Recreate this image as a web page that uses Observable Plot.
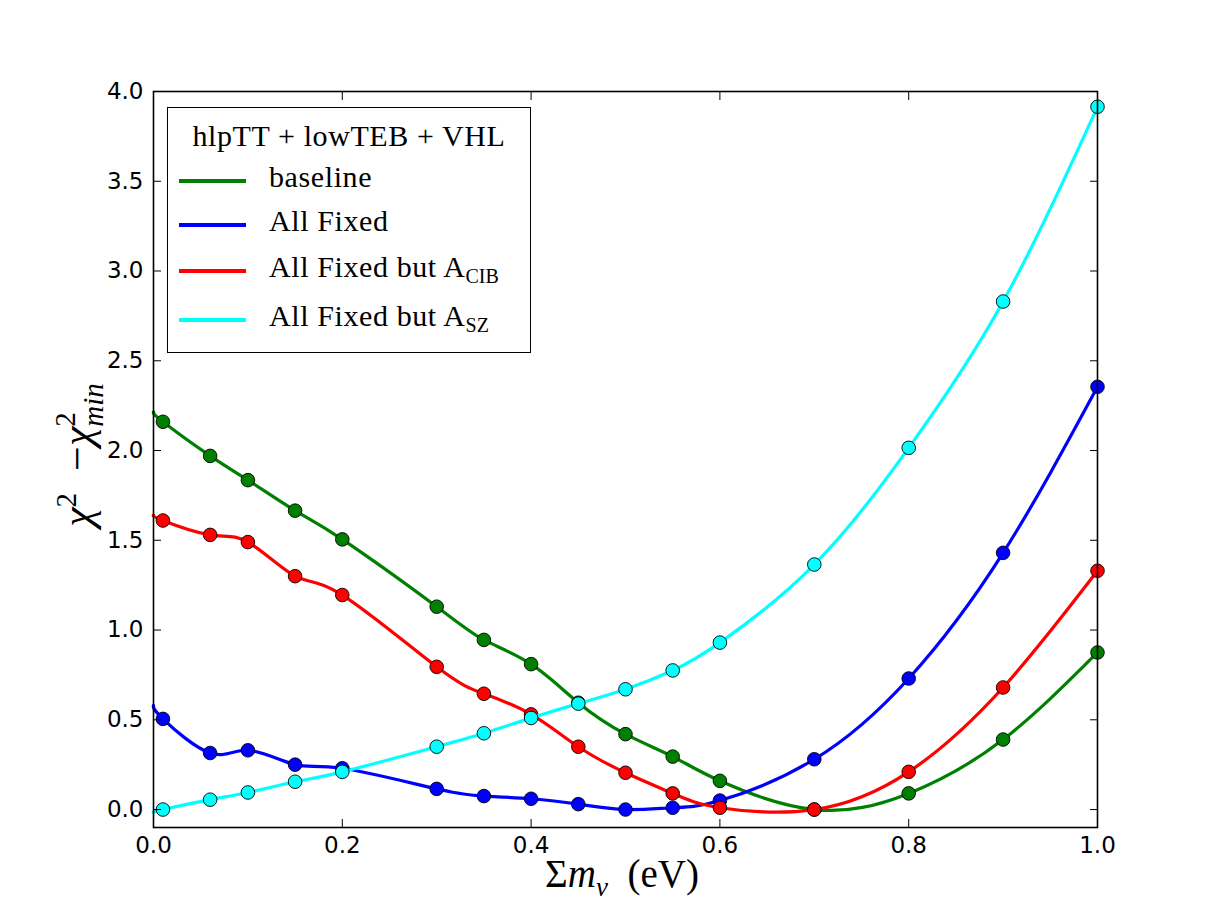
<!DOCTYPE html>
<html>
<head>
<meta charset="utf-8">
<script src="https://cdn.jsdelivr.net/npm/d3@7"></script>
<script src="https://cdn.jsdelivr.net/npm/@observablehq/plot@0.6"></script>
<style>
  html, body { margin: 0; padding: 0; background: #fff; }
  #wrap { position: relative; width: 1219px; height: 919px; }
  #legend { position: absolute; left: 167px; top: 107px; width: 362px; height: 244px;
    border: 1.5px solid #000; background: #fff; font-family: "Liberation Serif", serif; font-size: 30px; color: #000; letter-spacing: 0.6px; }
  .lt { position: absolute; white-space: nowrap; line-height: 1; }
  .sw { position: absolute; left: 11px; width: 67px; height: 3.5px; }
  .sub { font-size: 20px; position: relative; top: 6px; letter-spacing: 0; }
  #xlabel { position: absolute; left: 422px; width: 400px; top: 853px; text-align: center;
    font-family: "Liberation Serif", serif; font-size: 39px; white-space: nowrap; line-height: 1.1; }
  #ylabel { position: absolute; left: 80px; top: 455px; transform: translate(-50%, -50%) rotate(-90deg);
    font-family: "Liberation Serif", serif; font-size: 44px; white-space: nowrap; line-height: 1.1; }
  .stack { display: inline-block; vertical-align: middle; line-height: 0.95; position: relative; top: -2px; text-align: left; }
  .stack span { display: block; }
</style>
</head>
<body>
<div id="wrap"></div>
<script>
// x positions of the computed points (eV)
const mnu = [0.01, 0.06, 0.1, 0.15, 0.2, 0.3, 0.35, 0.4, 0.45, 0.5, 0.55, 0.6, 0.7, 0.8, 0.9, 1.0];
// series values (chi^2 - chi^2_min)
const baseline      = [2.16, 1.97, 1.835, 1.665, 1.505, 1.13, 0.945, 0.81, 0.595, 0.42, 0.295, 0.16, 0.0, 0.09, 0.39, 0.875];
const allFixed      = [0.505, 0.315, 0.33, 0.25, 0.23, 0.115, 0.075, 0.06, 0.03, 0.0, 0.01, 0.05, 0.28, 0.73, 1.43, 2.355];
const allFixedCIB   = [1.61, 1.53, 1.49, 1.30, 1.195, 0.795, 0.645, 0.53, 0.35, 0.205, 0.09, 0.01, 0.0, 0.21, 0.68, 1.33];
const allFixedSZ    = [0.0, 0.055, 0.095, 0.155, 0.21, 0.35, 0.425, 0.51, 0.59, 0.67, 0.775, 0.93, 1.365, 2.015, 2.83, 3.915];
// where each smooth curve starts at the left edge
const curveStartX = 0.0;
const curveStart = [2.215, 0.58, 1.64, -0.015];

const seriesNames = ["baseline", "All Fixed", "All Fixed but A_CIB", "All Fixed but A_SZ"];
const seriesValues = [baseline, allFixed, allFixedCIB, allFixedSZ];
const seriesColors = ["#008000", "#0000ff", "#ff0000", "#00ffff"];

const xTicks = [0.0, 0.2, 0.4, 0.6, 0.8, 1.0];
const yTicks = [0.0, 0.5, 1.0, 1.5, 2.0, 2.5, 3.0, 3.5, 4.0];

const seriesMarks = [];
seriesValues.forEach((vals, i) => {
  const pts = mnu.map((m, j) => ({x: m, y: vals[j]}));
  const curvePts = [{x: curveStartX, y: curveStart[i]}, ...pts];
  seriesMarks.push(Plot.line(curvePts, {x: "x", y: "y", stroke: seriesColors[i], strokeWidth: 3.2, curve: "natural"}));
  seriesMarks.push(Plot.dot(pts, {x: "x", y: "y", fill: seriesColors[i], stroke: "#000", strokeWidth: 0.9, r: 6.8}));
});

const fmt = d3.format(".1f");
const none = () => "";
const chart = Plot.plot({
  width: 1219,
  height: 919,
  marginLeft: 153,
  marginRight: 122,
  marginTop: 91,
  marginBottom: 92,
  style: {fontFamily: "DejaVu Sans", fontSize: "23px", background: "#fff", color: "#000"},
  x: {domain: [0, 1]},
  y: {domain: [-0.1, 4.0]},
  marks: [
    ...seriesMarks,
    Plot.axisX(xTicks, {anchor: "bottom", tickSize: -8, tickPadding: 17, tickFormat: fmt, label: null, fontSize: 23, strokeWidth: 1}),
    Plot.axisX(xTicks, {anchor: "top", tickSize: -8, tickFormat: none, label: null, strokeWidth: 1}),
    Plot.axisY(yTicks, {anchor: "left", tickSize: -8, tickPadding: 18, tickFormat: fmt, label: null, fontSize: 23, strokeWidth: 1}),
    Plot.axisY(yTicks, {anchor: "right", tickSize: -8, tickFormat: none, label: null, strokeWidth: 1}),
    Plot.frame({stroke: "#000", strokeWidth: 1.6})
  ]
});

const wrap = document.getElementById("wrap");
wrap.appendChild(chart);

// legend
const legend = document.createElement("div");
legend.id = "legend";
const title = document.createElement("div");
title.className = "lt";
title.style.left = "0"; title.style.width = "100%"; title.style.textAlign = "center"; title.style.top = "13px";
title.textContent = "hlpTT + lowTEB + VHL";
legend.appendChild(title);
const rowTops = [73, 117, 163, 212];
seriesNames.forEach((name, i) => {
  const sw = document.createElement("div");
  sw.className = "sw";
  sw.style.top = (rowTops[i] - 2) + "px";
  sw.style.background = seriesColors[i];
  legend.appendChild(sw);
  const t = document.createElement("div");
  t.className = "lt";
  t.style.left = "101px";
  t.style.top = (rowTops[i] - 19) + "px";
  const parts = name.split("_");
  t.appendChild(document.createTextNode(parts[0]));
  if (parts[1]) {
    const s = document.createElement("span");
    s.className = "sub";
    s.textContent = parts[1];
    t.appendChild(s);
  }
  legend.appendChild(t);
});
wrap.appendChild(legend);

// axis labels
const xl = document.createElement("div");
xl.id = "xlabel";
xl.innerHTML = "Σ<i>m</i><sub style='font-size:27px'><i>ν</i></sub>&nbsp; (eV)";
wrap.appendChild(xl);

const yl = document.createElement("div");
yl.id = "ylabel";
yl.innerHTML = "<i>χ</i><sup style='font-size:29px'>2</sup>&nbsp;&nbsp;−<i>χ</i><span class='stack' style='font-size:29px'><span>2</span><span><i>min</i></span></span>";
wrap.appendChild(yl);
</script>
</body>
</html>
